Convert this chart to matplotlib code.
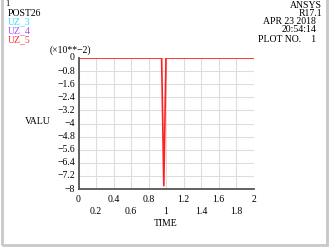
import matplotlib.pyplot as plt
from matplotlib.patches import Rectangle

# data (UZ_5, x10**-2)
time = [0.0, 0.95, 0.975, 1.0, 2.0]
uz5 = [0.0, 0.0, -7.8, 0.0, 0.0]

yticks = [0, -0.8, -1.6, -2.4, -3.2, -4, -4.8, -5.6, -6.4, -7.2, -8]
xticks_upper = [0, 0.4, 0.8, 1.2, 1.6, 2]
xticks_lower = [0.2, 0.6, 1, 1.4, 1.8]

legend_names = ["UZ_3", "UZ_4", "UZ_5"]
legend_colors = ["#33e0ff", "#b04cff", "#ff3030"]

W, H = 330, 248
FS = 7
plt.rcParams['font.family'] = ['Liberation Serif', 'DejaVu Serif']
fig = plt.figure(figsize=(W / 100, H / 100), dpi=100)

def ftext(x, y, s, **kw):
    kw.setdefault('fontsize', FS)
    fig.text(x / W, 1 - y / H, s, **kw)

# outer frame
fig.patches.append(Rectangle((2 / W, 3 / H), 325 / W, 260 / H, transform=fig.transFigure,
                             fill=False, edgecolor='#c8c8c8', lw=2))

ax = fig.add_axes([78.5 / W, 1 - 189 / H, 175 / W, 131 / H])
ax.plot(time, uz5, color='#ff2020', lw=1.2)
ax.set_xlim(0, 2)
ax.set_ylim(-8, 0)
ax.set_xticks([i * 0.2 for i in range(11)])
ax.set_yticks(yticks)
ax.grid(color='#dddddd', lw=0.8)
ax.tick_params(length=0, labelbottom=False, labelleft=False)
for s in ['top', 'right']:
    ax.spines[s].set_visible(False)
for s in ['left', 'bottom']:
    ax.spines[s].set_color('#555555')
    ax.spines[s].set_linewidth(1.3)

for v in yticks:
    ax.text(-0.02, v, f"{v:g}".replace('-', '\u2212'), transform=ax.get_yaxis_transform(),
            ha='right', va='center', fontsize=FS)
for v in xticks_upper:
    ax.text(v, -0.08, f"{v:g}", transform=ax.get_xaxis_transform(),
            ha='center', va='center', fontsize=FS)
for v in xticks_lower:
    ax.text(v, -0.17, f"{v:g}", transform=ax.get_xaxis_transform(),
            ha='center', va='center', fontsize=FS)

ftext(166, 224, "TIME", ha='center', va='center')
ftext(38, 121, "VALU", ha='center', va='center')
ftext(70, 50, "(\u00d710**\u22122)", ha='center', va='center')

ftext(5, 4, "1", va='center', fontsize=6)
ftext(8, 13, "POST26", va='center')
for i, (n, c) in enumerate(zip(legend_names, legend_colors)):
    ftext(8, 22 + 8.7 * i, n, va='center', color=c)

ftext(322, 5, "ANSYS", ha='right', va='center')
ftext(322, 13, "R17.1", ha='right', va='center')
ftext(316, 22, "APR 23 2018", ha='right', va='center')
ftext(316, 30, "20:54:14", ha='right', va='center')
ftext(316, 39, "PLOT NO.    1", ha='right', va='center')

fig.savefig("out.png", dpi=100)
